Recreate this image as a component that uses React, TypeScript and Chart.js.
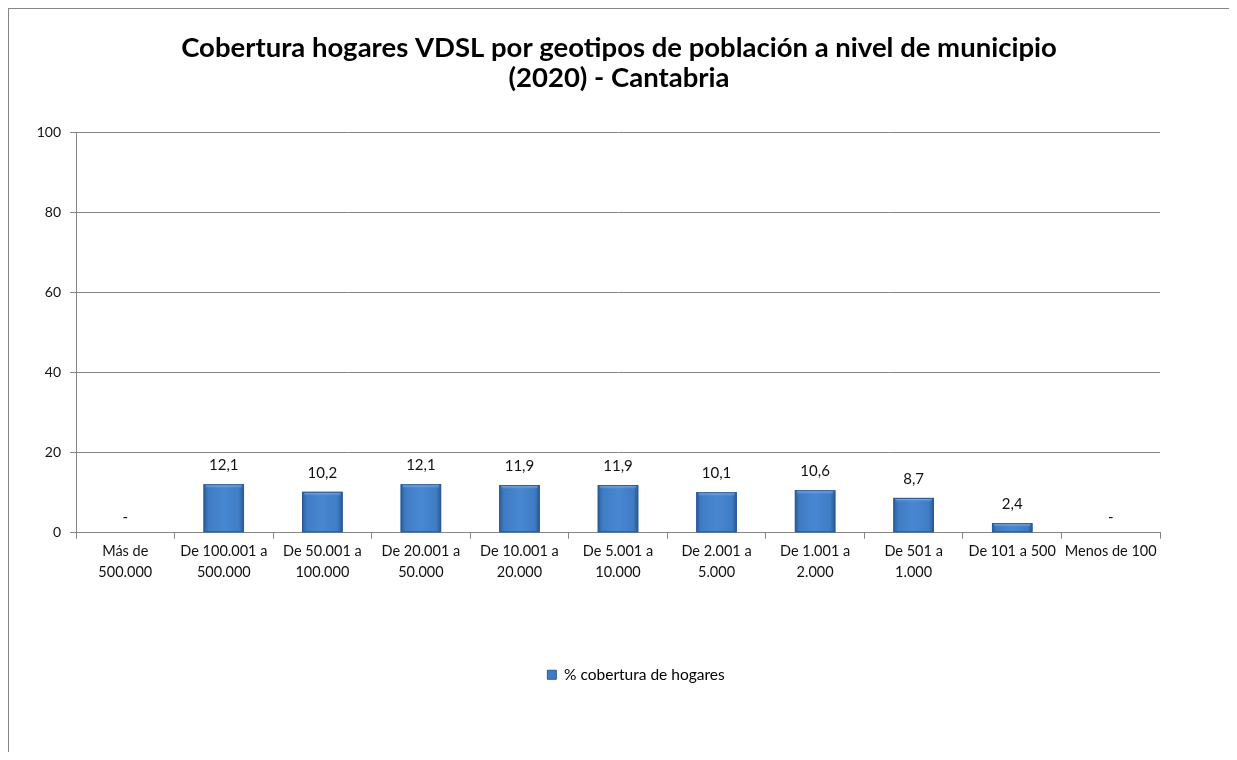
import React, { useEffect, useRef } from "react";
import { Chart, registerables } from "chart.js";

Chart.register(...registerables);

const categories: (string | string[])[] = [
  ["Más de", "500.000"],
  ["De 100.001 a", "500.000"],
  ["De 50.001 a", "100.000"],
  ["De 20.001 a", "50.000"],
  ["De 10.001 a", "20.000"],
  ["De 5.001 a", "10.000"],
  ["De 2.001 a", "5.000"],
  ["De 1.001 a", "2.000"],
  ["De 501 a", "1.000"],
  "De 101 a 500",
  "Menos de 100",
];
const coverage: (number | null)[] = [null, 12.1, 10.2, 12.1, 11.9, 11.9, 10.1, 10.6, 8.7, 2.4, null];
const seriesLabel = "% cobertura de hogares";
const titleLines = [
  "Cobertura hogares VDSL por geotipos de población a nivel de municipio",
  "(2020) - Cantabria",
];
const yMin = 0;
const yMax = 100;
const yStep = 20;

const FONT = "Lato, 'Open Sans', sans-serif";
const GRID = "#868686";
const TEXT = "#111111";

const W = 1220;
const H = 751;

const barBevel = {
  id: "barBevel",
  afterDatasetsDraw(chart: any) {
    const ctx = chart.ctx;
    const meta = chart.getDatasetMeta(0);
    meta.data.forEach((el: any, i: number) => {
      if (coverage[i] == null) return;
      const { x, y, base, width } = el.getProps(["x", "y", "base", "width"], true);
      const l = x - width / 2;
      const r = x + width / 2;
      const h = base - y;
      if (h <= 0) return;
      ctx.save();
      const g = ctx.createLinearGradient(l, 0, r, 0);
      g.addColorStop(0, "#2D5C98");
      g.addColorStop(0.12, "#3F7CC4");
      g.addColorStop(0.5, "#4887D2");
      g.addColorStop(0.88, "#3F7CC4");
      g.addColorStop(1, "#2A5690");
      ctx.fillStyle = g;
      ctx.fillRect(l, y, width, h);
      const t = Math.min(4, h / 2);
      const g2 = ctx.createLinearGradient(0, y, 0, y + t);
      g2.addColorStop(0, "rgba(170,200,240,0.9)");
      g2.addColorStop(1, "rgba(110,160,220,0.0)");
      ctx.fillStyle = g2;
      ctx.fillRect(l + 2, y, width - 4, t);
      ctx.strokeStyle = "#2B5A94";
      ctx.lineWidth = 1;
      ctx.strokeRect(l + 0.5, y + 0.5, width - 1, h - 1);
      ctx.restore();
    });
  },
};

const dataLabels = {
  id: "dataLabels",
  afterDatasetsDraw(chart: any) {
    const ctx = chart.ctx;
    const meta = chart.getDatasetMeta(0);
    const yScale = chart.scales.y;
    ctx.save();
    ctx.font = `15px ${FONT}`;
    ctx.fillStyle = TEXT;
    ctx.textAlign = "center";
    ctx.textBaseline = "middle";
    meta.data.forEach((el: any, i: number) => {
      const v = coverage[i];
      const txt = v == null ? "-" : v.toFixed(1).replace(".", ",");
      const yTop = v == null ? yScale.getPixelForValue(0) : el.y;
      ctx.fillText(txt, el.x, yTop - (v == null ? 16 : 19));
    });
    ctx.restore();
  },
};

const legendShift = {
  id: "legendShift",
  afterLayout(chart: any) {
    const lg = chart.legend;
    if (!lg) return;
    lg.left += 17;
    lg.right += 17;
  },
};

export default function App() {
  const ref = useRef<HTMLCanvasElement | null>(null);

  useEffect(() => {
    const canvas = ref.current;
    if (!canvas) return;
    const chart = new Chart(canvas, {
      type: "bar",
      data: {
        labels: categories,
        datasets: [
          {
            label: seriesLabel,
            data: coverage,
            backgroundColor: "#4080C8",
            borderColor: "#2B5A94",
            borderWidth: 0,
            barPercentage: 0.41,
            categoryPercentage: 1,
          },
        ],
      },
      options: {
        responsive: false,
        animation: false,
        layout: { padding: { top: 0, left: 0, right: 0, bottom: 67.5 } },
        plugins: {
          title: {
            display: true,
            text: titleLines,
            color: "#000",
            font: { family: FONT, size: 27.5, weight: "bold", lineHeight: "30px" },
            padding: { top: 24, bottom: 39 },
          },
          legend: {
            display: true,
            position: "bottom",
            labels: {
              boxWidth: 9,
              boxHeight: 9,
              color: TEXT,
              font: { family: FONT, size: 15.5 },
              padding: 10,
              generateLabels: () => [
                {
                  text: seriesLabel,
                  fillStyle: "#3F7CC4",
                  strokeStyle: "#2B5A94",
                  lineWidth: 1,
                  hidden: false,
                  datasetIndex: 0,
                },
              ],
            },
          },
          tooltip: { enabled: false },
        },
        scales: {
          x: {
            grid: {
              display: true,
              drawOnChartArea: false,
              drawTicks: true,
              tickLength: 6,
              color: GRID,
              offset: true,
            },
            border: { display: true, color: GRID, width: 1 },
            ticks: {
              color: TEXT,
              font: { family: FONT, size: 14.5, lineHeight: 1.45 },
              padding: 2.5,
              maxRotation: 0,
              autoSkip: false,
            },
            afterFit: (s: any) => {
              s.height = 124.25;
            },
          },
          y: {
            min: yMin,
            max: yMax,
            ticks: {
              stepSize: yStep,
              color: TEXT,
              font: { family: FONT, size: 14 },
              padding: 9,
            },
            grid: { color: GRID, tickLength: 6, drawTicks: true },
            border: { display: true, color: GRID, width: 1 },
            afterFit: (s: any) => {
              s.width = 67;
            },
          },
          y2: {
            position: "right",
            display: true,
            min: 0,
            max: 100,
            grid: { display: false, drawTicks: false },
            border: { display: false },
            ticks: { display: false },
            afterFit: (s: any) => {
              s.width = 69;
            },
          },
        },
      },
      plugins: [barBevel, dataLabels, legendShift],
    } as any);
    return () => chart.destroy();
  }, []);

  return (
    <div
      style={{
        width: W,
        height: H,
        marginBottom: -8,
        borderLeft: "1px solid #868686",
        borderTop: "1px solid #868686",
        background: "#fff",
      }}
    >
      <canvas ref={ref} width={W} height={H} style={{ display: "block" }} />
    </div>
  );
}
